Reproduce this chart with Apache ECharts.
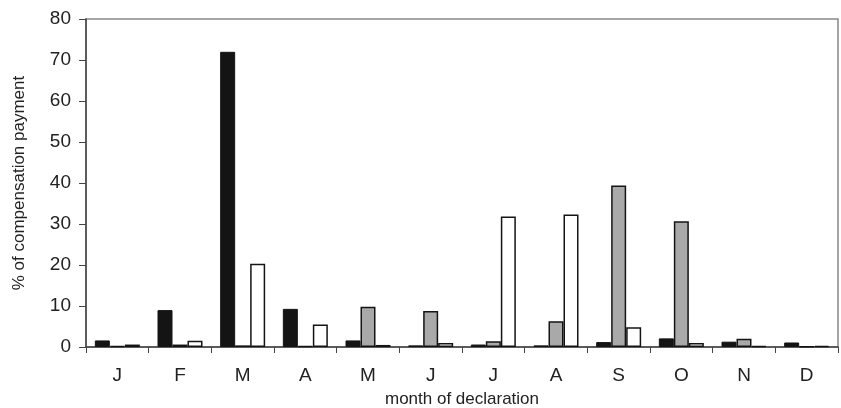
<!DOCTYPE html>
<html>
<head>
<meta charset="utf-8">
<script src="https://cdn.jsdelivr.net/npm/echarts@6/dist/echarts.min.js"></script>
<style>
html, body { margin: 0; padding: 0; background: #fff; }
#chart { width: 841px; height: 408px; }
</style>
</head>
<body>
<div id="chart"></div>
<script>
// months of declaration
var months = ['J', 'F', 'M', 'A', 'M', 'J', 'J', 'A', 'S', 'O', 'N', 'D'];
// three series (% of compensation payment)
var blackVals = [1.6, 9.0, 72.0, 9.3, 1.6, 0.4, 0.6, 0.4, 1.2, 2.1, 1.3, 1.1];
var greyVals = [0.3, 0.6, 0.4, 0.2, 9.8, 8.8, 1.4, 6.3, 39.4, 30.7, 2.0, 0.1];
var whiteVals = [0.6, 1.5, 20.3, 5.5, 0.5, 1.0, 31.8, 32.3, 4.8, 1.0, 0.3, 0.3];

var font = 'Liberation Sans, Arial, sans-serif';
var myChart = echarts.init(document.getElementById('chart'));
var option = {
	animation: false,
	grid: {
		left: 86, right: 3, top: 19, bottom: 61,
		containLabel: false, outerBoundsMode: 'none',
		show: true, borderColor: '#888', borderWidth: 1.5
	},
	xAxis: {
		type: 'category',
		data: months,
		name: 'month of declaration',
		nameLocation: 'middle',
		nameGap: 44,
		nameTextStyle: { fontFamily: font, fontSize: 17, color: '#222' },
		axisLine: { lineStyle: { color: '#444', width: 1.5 } },
		axisTick: { show: true, length: 6, alignWithLabel: false, lineStyle: { color: '#444' } },
		axisLabel: { fontFamily: font, fontSize: 19, color: '#222', margin: 19 }
	},
	yAxis: {
		type: 'value',
		min: 0, max: 80, interval: 10,
		name: '% of compensation payment',
		nameLocation: 'middle',
		nameGap: 58,
		nameTextStyle: { fontFamily: font, fontSize: 17, color: '#222' },
		axisLine: { show: true, lineStyle: { color: '#444', width: 1.5 } },
		axisTick: { show: true, length: 7, lineStyle: { color: '#444' } },
		axisLabel: { fontFamily: font, fontSize: 19, color: '#222', margin: 15 },
		splitLine: { show: false }
	},
	series: [
		{
			name: 'black', type: 'bar', data: blackVals,
			barGap: '0%', barWidth: 15,
			itemStyle: { color: '#141414', borderColor: '#141414', borderWidth: 1 }
		},
		{
			name: 'grey', type: 'bar', data: greyVals, barWidth: 15,
			itemStyle: { color: '#a9a9a9', borderColor: '#141414', borderWidth: 1.5 }
		},
		{
			name: 'white', type: 'bar', data: whiteVals, barWidth: 15,
			itemStyle: { color: '#ffffff', borderColor: '#141414', borderWidth: 1.5 }
		}
	]
};
myChart.setOption(option);
</script>
</body>
</html>
